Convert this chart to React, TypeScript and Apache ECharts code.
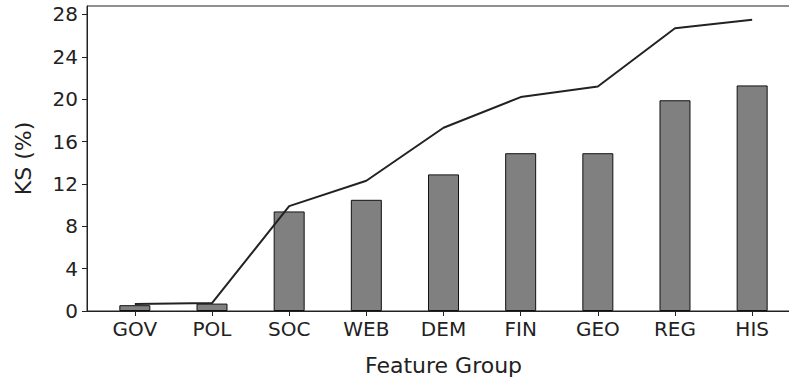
import React, { useEffect, useRef } from "react";
import * as echarts from "echarts";

const categories = ["GOV", "POL", "SOC", "WEB", "DEM", "FIN", "GEO", "REG", "HIS"];
const barValues = [0.55, 0.7, 9.4, 10.5, 12.9, 14.9, 14.9, 19.9, 21.3];
const lineValues = [0.65, 0.75, 9.9, 12.3, 17.3, 20.2, 21.2, 26.7, 27.5];
const yTicks = [0, 4, 8, 12, 16, 20, 24, 28];

export default function App() {
  const ref = useRef<HTMLDivElement>(null);
  useEffect(() => {
    if (!ref.current) return;
    const chart = echarts.init(ref.current, undefined, { renderer: "svg" });
    const idx = categories.map((_, i) => i);
    const font = "DejaVu Sans";
    chart.setOption({
      animation: false,
      backgroundColor: "#ffffff",
      grid: {
        left: 87,
        top: 6,
        right: 1,
        bottom: 69,
        show: true,
        borderColor: "#222",
        borderWidth: 1,
        backgroundColor: "transparent",
      },
      xAxis: {
        type: "value",
        min: -0.62,
        max: 8.62,
        name: "Feature Group",
        nameLocation: "middle",
        nameGap: 43,
        nameTextStyle: { fontFamily: font, fontSize: 22, color: "#222" },
        splitLine: { show: false },
        axisLine: { show: true, onZero: false, lineStyle: { color: "#222", width: 1 } },
        axisTick: {
          show: true,
          length: 5,
          customValues: idx,
          lineStyle: { color: "#222" },
        },
        axisLabel: {
          customValues: idx,
          formatter: (v: number) => categories[Math.round(v)] ?? "",
          fontFamily: font,
          fontSize: 20,
          color: "#222",
          margin: 8,
        },
      },
      yAxis: {
        type: "value",
        min: 0,
        max: 28.8,
        name: "KS (%)",
        nameLocation: "middle",
        nameGap: 53,
        nameTextStyle: { fontFamily: font, fontSize: 22, color: "#222" },
        splitLine: { show: false },
        axisLine: { show: true, onZero: false, lineStyle: { color: "#222", width: 1 } },
        axisTick: {
          show: true,
          length: 5,
          customValues: yTicks,
          lineStyle: { color: "#222" },
        },
        axisLabel: {
          customValues: yTicks,
          fontFamily: font,
          fontSize: 20,
          color: "#222",
          margin: 9,
        },
      },
      series: [
        {
          type: "bar",
          data: barValues.map((v, i) => [i, v]),
          barWidth: 31,
          itemStyle: { color: "#808080", borderColor: "#111", borderWidth: 1 },
        },
        {
          type: "line",
          data: lineValues.map((v, i) => [i, v]),
          symbol: "none",
          lineStyle: { color: "#222", width: 2 },
          z: 5,
        },
      ],
    });
    return () => chart.dispose();
  }, []);
  return (
    <div
      style={{
        position: "absolute",
        left: 0,
        top: 0,
        width: 789,
        height: 381,
        overflow: "hidden",
        background: "#fff",
      }}
    >
      <div ref={ref} style={{ width: 801, height: 381 }} />
    </div>
  );
}
